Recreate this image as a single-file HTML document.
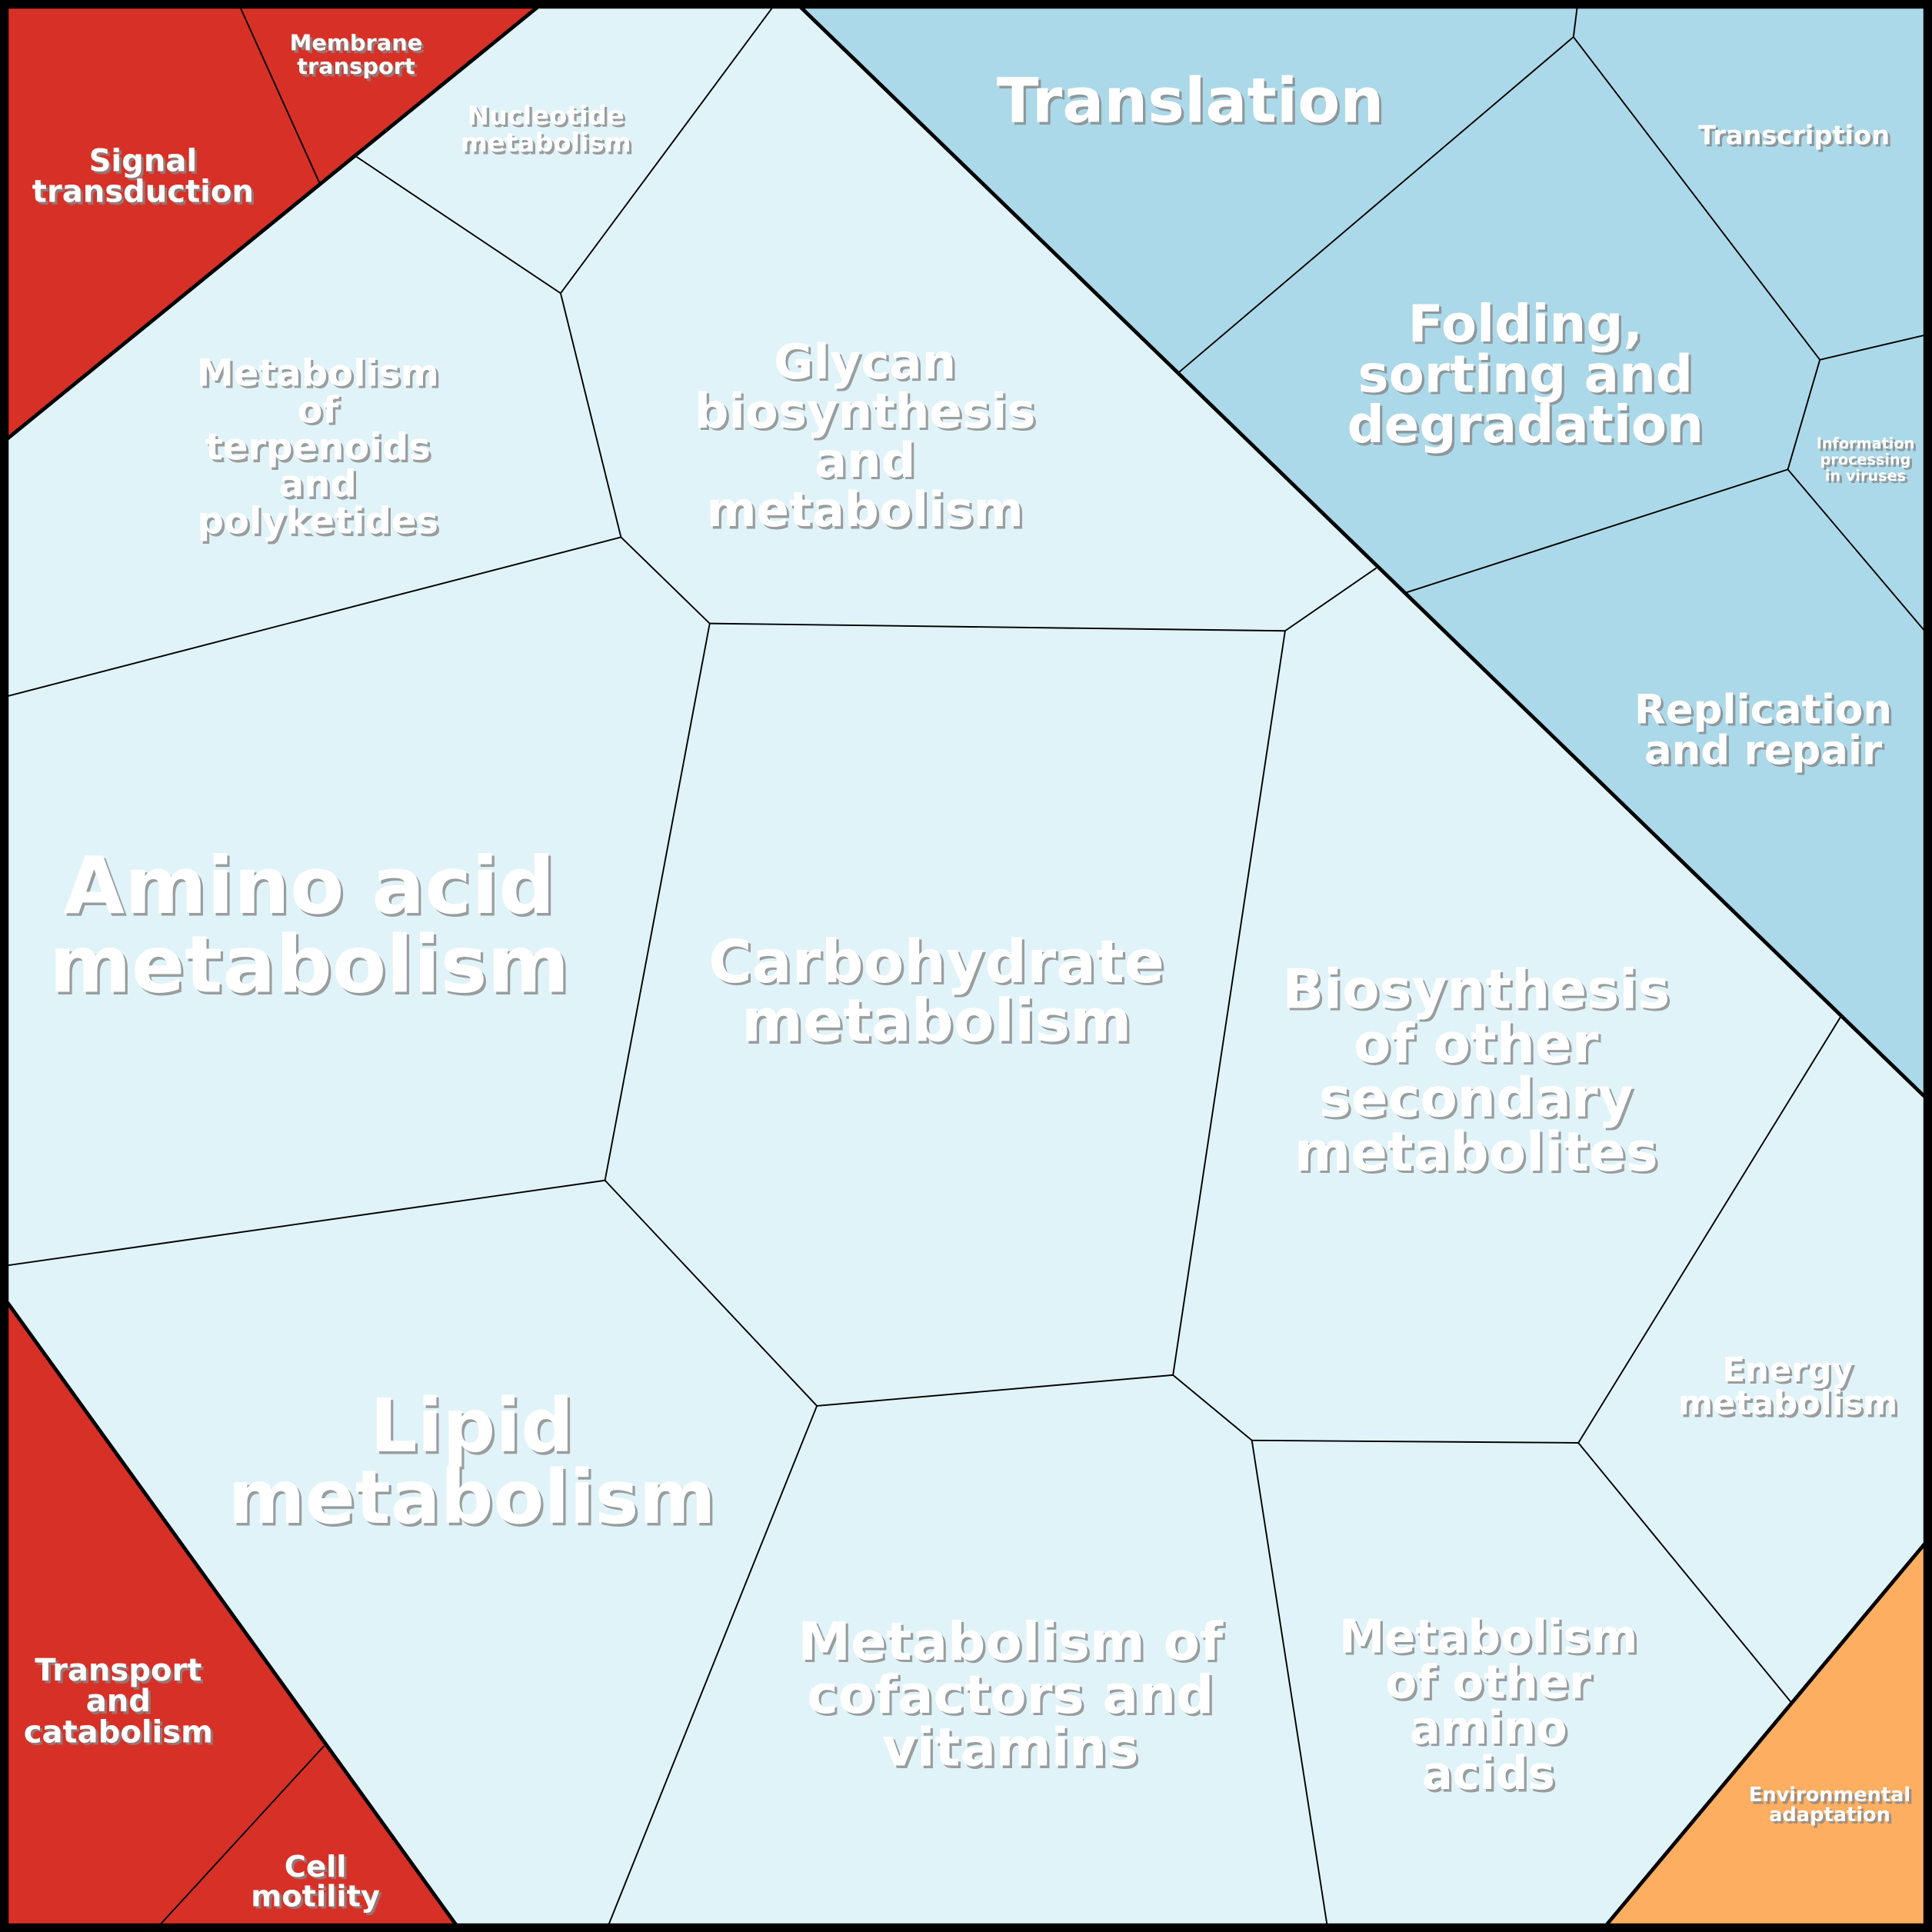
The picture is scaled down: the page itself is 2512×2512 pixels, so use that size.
<!DOCTYPE html>
<html><head><meta charset="utf-8"><style>
html,body{margin:0;padding:0;background:#fff}
svg{display:block}
text{font-family:"DejaVu Sans","Liberation Sans",sans-serif;font-weight:bold;text-anchor:middle}
.s{fill:#888;opacity:.8}
.w{fill:#fff}
</style></head><body>
<svg width="2512" height="2512" viewBox="0 0 1568 1568" xmlns="http://www.w3.org/2000/svg">
<rect x="0" y="0" width="1568" height="1568" fill="#e0f3f8"/>
<polygon points="6,6 436,6 6,356" fill="#d73027"/>
<polygon points="650,6 1562,6 1562,890" fill="#abd9e9"/>
<polygon points="6,1057 370,1562 6,1562" fill="#d73027"/>
<polygon points="1562,1253 1562,1562 1304,1562" fill="#fdae61"/>
<g stroke="#000" stroke-width="1.2" fill="none">
<line x1="195" y1="6" x2="260" y2="150"/>
<line x1="1280" y1="6" x2="1277" y2="30"/>
<line x1="1277" y1="30" x2="957" y2="302"/>
<line x1="1277" y1="30" x2="1477" y2="292"/>
<line x1="1477" y1="292" x2="1562" y2="272"/>
<line x1="1477" y1="292" x2="1451" y2="381"/>
<line x1="1451" y1="381" x2="1141" y2="481"/>
<line x1="1451" y1="381" x2="1562" y2="512"/>
<line x1="627" y1="6" x2="455" y2="238"/>
<line x1="455" y1="238" x2="289" y2="127"/>
<line x1="455" y1="238" x2="504" y2="436"/>
<line x1="504" y1="436" x2="6" y2="565"/>
<line x1="504" y1="436" x2="576" y2="506"/>
<line x1="576" y1="506" x2="1043" y2="512"/>
<line x1="1043" y1="512" x2="1117" y2="461"/>
<line x1="1043" y1="512" x2="952" y2="1116"/>
<line x1="576" y1="506" x2="491" y2="958"/>
<line x1="491" y1="958" x2="6" y2="1027"/>
<line x1="491" y1="958" x2="663" y2="1141"/>
<line x1="663" y1="1141" x2="952" y2="1116"/>
<line x1="663" y1="1141" x2="494" y2="1562"/>
<line x1="952" y1="1116" x2="1016" y2="1169"/>
<line x1="1016" y1="1169" x2="1281" y2="1171"/>
<line x1="1016" y1="1169" x2="1077" y2="1562"/>
<line x1="1281" y1="1171" x2="1494" y2="825"/>
<line x1="1281" y1="1171" x2="1454" y2="1382"/>
<line x1="263" y1="1417" x2="130" y2="1562"/>
</g>
<g stroke="#000" stroke-width="3" fill="none">
<line x1="6" y1="356" x2="436" y2="6"/>
<line x1="650" y1="6" x2="1562" y2="890"/>
<line x1="6" y1="1057" x2="370" y2="1562"/>
<line x1="1562" y1="1253" x2="1304" y2="1562"/>
</g>
<rect x="3.5" y="3.5" width="1561" height="1561" fill="none" stroke="#000" stroke-width="7"/>
<g id="t">
<text x="116" y="139" font-size="25">Signal</text><text x="116" y="164" font-size="25">transduction</text>
<text x="289" y="41" font-size="18">Membrane</text><text x="289" y="60" font-size="18">transport</text>
<text x="443" y="101" font-size="21">Nucleotide</text><text x="443" y="123" font-size="21">metabolism</text>
<text x="966" y="99" font-size="50">Translation</text>
<text x="1456" y="117" font-size="21">Transcription</text>
<text x="1238" y="277" font-size="42">Folding,</text><text x="1238" y="318" font-size="42">sorting and</text><text x="1238" y="359" font-size="42">degradation</text>
<text x="1514" y="364" font-size="12">Information</text><text x="1514" y="377" font-size="12">processing</text><text x="1514" y="390" font-size="12">in viruses</text>
<text x="1431" y="587" font-size="33">Replication</text><text x="1431" y="620" font-size="33">and repair</text>
<text x="258" y="313" font-size="30">Metabolism</text><text x="258" y="343" font-size="30">of</text><text x="258" y="373" font-size="30">terpenoids</text><text x="258" y="403" font-size="30">and</text><text x="258" y="433" font-size="30">polyketides</text>
<text x="702" y="307" font-size="39">Glycan</text><text x="702" y="347" font-size="39">biosynthesis</text><text x="702" y="387" font-size="39">and</text><text x="702" y="427" font-size="39">metabolism</text>
<text x="251" y="741" font-size="64">Amino acid</text><text x="251" y="805" font-size="64">metabolism</text>
<text x="760" y="797" font-size="48">Carbohydrate</text><text x="760" y="845" font-size="48">metabolism</text>
<text x="1198" y="818" font-size="44">Biosynthesis</text><text x="1198" y="862" font-size="44">of other</text><text x="1198" y="906" font-size="44">secondary</text><text x="1198" y="950" font-size="44">metabolites</text>
<text x="1451" y="1121" font-size="27">Energy</text><text x="1451" y="1148" font-size="27">metabolism</text>
<text x="383" y="1178" font-size="60">Lipid</text><text x="383" y="1236" font-size="60">metabolism</text>
<text x="820" y="1347" font-size="43">Metabolism of</text><text x="820" y="1390" font-size="43">cofactors and</text><text x="820" y="1433" font-size="43">vitamins</text>
<text x="1208" y="1341" font-size="37">Metabolism</text><text x="1208" y="1378" font-size="37">of other</text><text x="1208" y="1415" font-size="37">amino</text><text x="1208" y="1452" font-size="37">acids</text>
<text x="96" y="1364" font-size="25">Transport</text><text x="96" y="1389" font-size="25">and</text><text x="96" y="1414" font-size="25">catabolism</text>
<text x="256" y="1523" font-size="24">Cell</text><text x="256" y="1547" font-size="24">motility</text>
<text x="1485" y="1462" font-size="16">Environmental</text><text x="1485" y="1478" font-size="16">adaptation</text>
</g>
</svg>
<script>
(function(){var g=document.getElementById('t');var s=g.cloneNode(true);s.removeAttribute('id');s.setAttribute('class','s');s.setAttribute('transform','translate(2,2)');g.setAttribute('class','w');g.parentNode.insertBefore(s,g);})();
</script>
</body></html>
